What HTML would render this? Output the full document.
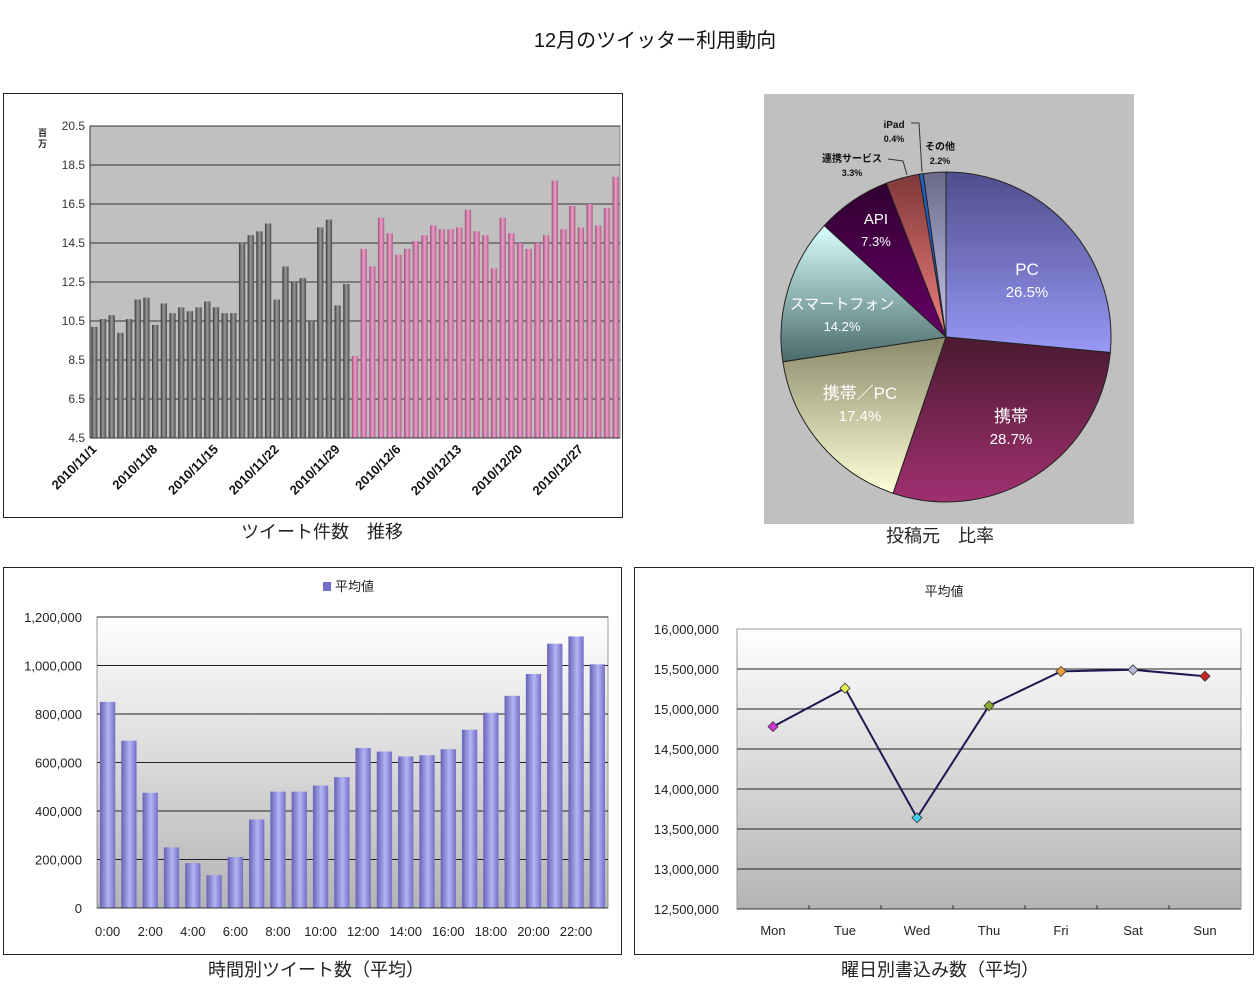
<!DOCTYPE html>
<html><head><meta charset="utf-8">
<style>
body{margin:0;background:#fff;width:1256px;height:1000px;overflow:hidden;font-family:"Liberation Sans","Noto Sans CJK JP",sans-serif;}
svg{position:absolute;left:0;top:0}
</style></head>
<body>
<svg id="s" width="1256" height="1000" xmlns="http://www.w3.org/2000/svg">
<defs>
<linearGradient id="grayBar" x1="0" x2="1"><stop offset="0" stop-color="#3a3a3a"/><stop offset="0.5" stop-color="#9a9a9a"/><stop offset="1" stop-color="#4a4a4a"/></linearGradient>
<linearGradient id="pinkBar" x1="0" x2="1"><stop offset="0" stop-color="#a04d7a"/><stop offset="0.5" stop-color="#e8a0c8"/><stop offset="1" stop-color="#b45c8c"/></linearGradient>
<linearGradient id="blueBar" x1="0" x2="1"><stop offset="0" stop-color="#6464b8"/><stop offset="0.55" stop-color="#b4b4f4"/><stop offset="1" stop-color="#7070c8"/></linearGradient>
<linearGradient id="plotBg" x1="0" y1="0" x2="0" y2="1"><stop offset="0" stop-color="#ffffff"/><stop offset="1" stop-color="#b4b4b4"/></linearGradient>
<linearGradient id="gPC" x1="0" y1="0" x2="0" y2="1"><stop offset="0" stop-color="#4e4e8c"/><stop offset="1" stop-color="#9898f6"/></linearGradient>
<linearGradient id="gK" x1="0" y1="0" x2="0" y2="1"><stop offset="0" stop-color="#4a1a30"/><stop offset="1" stop-color="#a03070"/></linearGradient>
<linearGradient id="gKP" x1="0" y1="0" x2="0" y2="1"><stop offset="0" stop-color="#8a8a6a"/><stop offset="1" stop-color="#ffffd8"/></linearGradient>
<linearGradient id="gSP" x1="0" y1="0" x2="0" y2="1"><stop offset="0" stop-color="#d8ffff"/><stop offset="1" stop-color="#4a6a6a"/></linearGradient>
<linearGradient id="gAPI" x1="0" y1="0" x2="0" y2="1"><stop offset="0" stop-color="#300030"/><stop offset="1" stop-color="#660066"/></linearGradient>
<linearGradient id="gR" x1="0" y1="0" x2="0" y2="1"><stop offset="0" stop-color="#803838"/><stop offset="1" stop-color="#f08080"/></linearGradient>
<linearGradient id="gO" x1="0" y1="0" x2="0" y2="1"><stop offset="0" stop-color="#6a6a8a"/><stop offset="1" stop-color="#c8c8f0"/></linearGradient>
</defs>
<text x="655" y="47" font-size="20" text-anchor="middle" fill="#111">12月のツイッター利用動向</text>
<rect x="3.5" y="93.5" width="619" height="424" fill="#fff" stroke="#222"/>
<rect x="764" y="94" width="370" height="430" fill="#c0c0c0"/>
<rect x="3.5" y="567.5" width="618" height="387" fill="#fff" stroke="#222"/>
<rect x="634.5" y="567.5" width="619" height="387" fill="#fff" stroke="#222"/>
<g id="g1"></g><g id="g2"></g><g id="g3"></g><g id="g4"></g>
<text x="322" y="538" font-size="18" text-anchor="middle" fill="#222">ツイート件数　推移</text>
<text x="940" y="542" font-size="18" text-anchor="middle" fill="#222">投稿元　比率</text>
<text x="316" y="976" font-size="18" text-anchor="middle" fill="#222">時間別ツイート数（平均）</text>
<text x="940" y="976" font-size="18" text-anchor="middle" fill="#222">曜日別書込み数（平均）</text>
</svg>
<script>
const NS="http://www.w3.org/2000/svg";
function mk(p,t,a,txt){const e=document.createElementNS(NS,t);for(const k in a)e.setAttribute(k,a[k]);if(txt!==undefined)e.textContent=txt;p.appendChild(e);return e;}

// ---- Chart 1 data ----
const dailyNov=[10.2,10.6,10.8,9.9,10.6,11.6,11.7,10.3,11.4,10.9,11.2,11.0,11.2,11.5,11.2,10.9,10.9,14.5,14.9,15.1,15.5,11.6,13.3,12.5,12.7,10.5,15.3,15.7,11.3,12.4];
const dailyDec=[8.7,14.2,13.3,15.8,15.0,13.9,14.2,14.6,14.9,15.4,15.2,15.2,15.3,16.2,15.1,14.9,13.2,15.8,15.0,14.5,14.2,14.5,14.9,17.7,15.2,16.4,15.3,16.5,15.4,16.3,17.9];
const dailyTicks=[4.5,6.5,8.5,10.5,12.5,14.5,16.5,18.5,20.5];
const dailyLabels=["2010/11/1","2010/11/8","2010/11/15","2010/11/22","2010/11/29","2010/12/6","2010/12/13","2010/12/20","2010/12/27"];
// ---- Chart 2 data ----
const pieNames=["PC","携帯","携帯／PC","スマートフォン","API","連携サービス","iPad","その他"];
const pieValues=[26.5,28.7,17.4,14.2,7.3,3.3,0.4,2.2];
// ---- Chart 3 data ----
const hourValues=[850000,690000,475000,250000,185000,135000,210000,365000,480000,480000,505000,540000,660000,645000,625000,630000,655000,735000,805000,875000,965000,1090000,1120000,1005000];
const hourTicks=[0,200000,400000,600000,800000,1000000,1200000];
// ---- Chart 4 data ----
const dayNames=["Mon","Tue","Wed","Thu","Fri","Sat","Sun"];
const dayValues=[14780000,15260000,13640000,15040000,15470000,15490000,15410000];
const dayTicks=[12500000,13000000,13500000,14000000,14500000,15000000,15500000,16000000];
const dayColors=["#cc33cc","#eeee55","#44ccee","#88aa33","#f0a040","#b8bcd8","#cc2222"];
const fmt=v=>v.toLocaleString("en-US");

// Chart 1
(function(){
const g=document.getElementById("g1");
const L=90,R=620,T=126,B=438,y0=4.5,y1=20.5;
const Y=v=>B-(v-y0)/(y1-y0)*(B-T);
const all=dailyNov.concat(dailyDec);const n=all.length;const w=(R-L)/n;
const X=i=>L+i*w;
let bg=mk(g,"rect",{x:L,y:T,width:R-L,height:B-T,fill:"#c0c0c0",stroke:"#888"});


dailyTicks.forEach(t=>{
 if(t>y0){let l=mk(g,"line",{x1:L,x2:R,y1:Y(t),y2:Y(t),stroke:"#333","stroke-width":1});
 
 }
 let tx=mk(g,"text",{x:L-5,y:Y(t)+4,"font-size":12,"text-anchor":"end",fill:"#333"},t.toFixed(1));
 
 
});
let u=mk(g,"text",{x:38,y:136,"font-size":9,"font-weight":"bold",fill:"#222"},"百");


let u2=mk(g,"text",{x:38,y:147,"font-size":9,"font-weight":"bold",fill:"#222"},"万");


all.forEach((v,i)=>{
 let r=mk(g,"rect",{x:X(i)+1.2,y:Y(v),width:w-2.4,height:B-Y(v),fill:i<dailyNov.length?"url(#grayBar)":"url(#pinkBar)"});
 
 
});
mk(g,"line",{x1:L,x2:R,y1:B,y2:B,stroke:"#333"});
mk(g,"line",{x1:L,x2:L,y1:T,y2:B,stroke:"#333"});
dailyLabels.forEach((s,k)=>{
 const cx=X(k*7)+w/2+3;
 let t=mk(g,"text",{x:cx,y:B+12,"font-size":13,"font-weight":"bold","text-anchor":"end",fill:"#111",transform:`rotate(-45 ${cx} ${B+12})`},s);
 
 
});
})();

// Chart 2
(function(){
const g=document.getElementById("g2");
const cx=946,cy=337,r=165;
const fills=["url(#gPC)","url(#gK)","url(#gKP)","url(#gSP)","url(#gAPI)","url(#gR)","#2060c0","url(#gO)"];
const tot=pieValues.reduce((a,b)=>a+b,0);
let a=0;
const P=(ang,rr)=>[cx+rr*Math.sin(ang),cy-rr*Math.cos(ang)];
pieValues.forEach((v,i)=>{
 const a0=a/tot*2*Math.PI;a+=v;const a1=a/tot*2*Math.PI;
 const p0=P(a0,r),p1=P(a1,r);
 const large=(a1-a0)>Math.PI?1:0;
 let s=mk(g,"path",{d:`M${cx},${cy}L${p0[0]},${p0[1]}A${r},${r} 0 ${large} 1 ${p1[0]},${p1[1]}Z`,fill:fills[i],stroke:"#222","stroke-width":1});
 
 
});
const labelPos=[[1027,279],[1011,426],[860,403],[842,313],[876,228]];
labelPos.forEach((p,i)=>{
 let t=mk(g,"text",{x:p[0],y:p[1]-4,"font-size":i<3?17:15,"text-anchor":"middle",fill:"#fff"},pieNames[i]);
 
 
 let t2=mk(g,"text",{x:p[0],y:p[1]+18,"font-size":i<3?15:13,"text-anchor":"middle",fill:"#fff"},pieValues[i].toFixed(1)+"%");
 
 
});
const outs=[[5,852,162],[6,894,128],[7,940,150]];
outs.forEach(([i,x,y])=>{
 let t=mk(g,"text",{x:x,y:y,"font-size":10,"font-weight":"bold","text-anchor":"middle",fill:"#111"},pieNames[i]);
 
 
 let t2=mk(g,"text",{x:x,y:y+14,"font-size":9,"font-weight":"bold","text-anchor":"middle",fill:"#111"},pieValues[i].toFixed(1)+"%");
 
 
});
mk(g,"polyline",{points:`888,159 903,161 907,175`,fill:"none",stroke:"#333"});
mk(g,"polyline",{points:`911,123 919,123 922,172`,fill:"none",stroke:"#333"});
})();

// Chart 3
(function(){
const g=document.getElementById("g3");
const L=97,R=608,T=617,B=908,y1=1200000;
const Y=v=>B-v/y1*(B-T);
const n=hourValues.length,w=(R-L)/n;
mk(g,"rect",{x:L,y:T,width:R-L,height:B-T,fill:"url(#plotBg)",stroke:"#999"});
hourTicks.forEach(t=>{
 if(t>0){let l=mk(g,"line",{x1:L,x2:R,y1:Y(t),y2:Y(t),stroke:"#222"});
 
 }
 let tx=mk(g,"text",{x:L-15,y:Y(t)+5,"font-size":13,"text-anchor":"end",fill:"#222"},fmt(t));
 
 
});
hourValues.forEach((v,i)=>{
 let r=mk(g,"rect",{x:L+i*w+3,y:Y(v),width:w-6,height:B-Y(v),fill:"url(#blueBar)"});
 
 
 if(i%2===0){let t=mk(g,"text",{x:L+i*w+w/2,y:936,"font-size":13,"text-anchor":"middle",fill:"#222"},i+":00");
 
 }
});
mk(g,"line",{x1:L,x2:R,y1:B,y2:B,stroke:"#333"});
let lg=mk(g,"rect",{x:323,y:582,width:8,height:9,fill:"#7070c8"});


let lt=mk(g,"text",{x:335,y:591,"font-size":13,fill:"#222"},"平均値");


})();

// Chart 4
(function(){
const g=document.getElementById("g4");
const L=737,R=1241,T=629,B=909,y0=12500000,y1=16000000;
const Y=v=>B-(v-y0)/(y1-y0)*(B-T);
const n=dayNames.length,w=(R-L)/n;const X=i=>L+i*w+w/2;
mk(g,"rect",{x:L,y:T,width:R-L,height:B-T,fill:"url(#plotBg)",stroke:"#999"});
dayTicks.forEach(t=>{
 if(t>y0&&t<y1){let l=mk(g,"line",{x1:L,x2:R,y1:Y(t),y2:Y(t),stroke:"#222"});
 
 }
 let tx=mk(g,"text",{x:L-18,y:Y(t)+5,"font-size":13,"text-anchor":"end",fill:"#222"},fmt(t));
 
 
});
mk(g,"line",{x1:L,x2:R,y1:B,y2:B,stroke:"#333"});
for(let i=1;i<n;i++)mk(g,"line",{x1:L+i*w,x2:L+i*w,y1:B,y2:B-4,stroke:"#333"});
let ln=mk(g,"polyline",{points:dayValues.map((v,i)=>X(i)+","+Y(v)).join(" "),fill:"none",stroke:"#1a1a50","stroke-width":2});


dayValues.forEach((v,i)=>{
 const x=X(i),y=Y(v);
 let m=mk(g,"path",{d:`M${x},${y-5}L${x+5},${y}L${x},${y+5}L${x-5},${y}Z`,fill:dayColors[i],stroke:"#333","stroke-width":0.8});
 
 
 let t=mk(g,"text",{x:x,y:935,"font-size":13,"text-anchor":"middle",fill:"#222"},dayNames[i]);
 
 
});
let tt=mk(g,"text",{x:944,y:596,"font-size":13,"text-anchor":"middle",fill:"#222"},"平均値");


})();
</script>
</body></html>
